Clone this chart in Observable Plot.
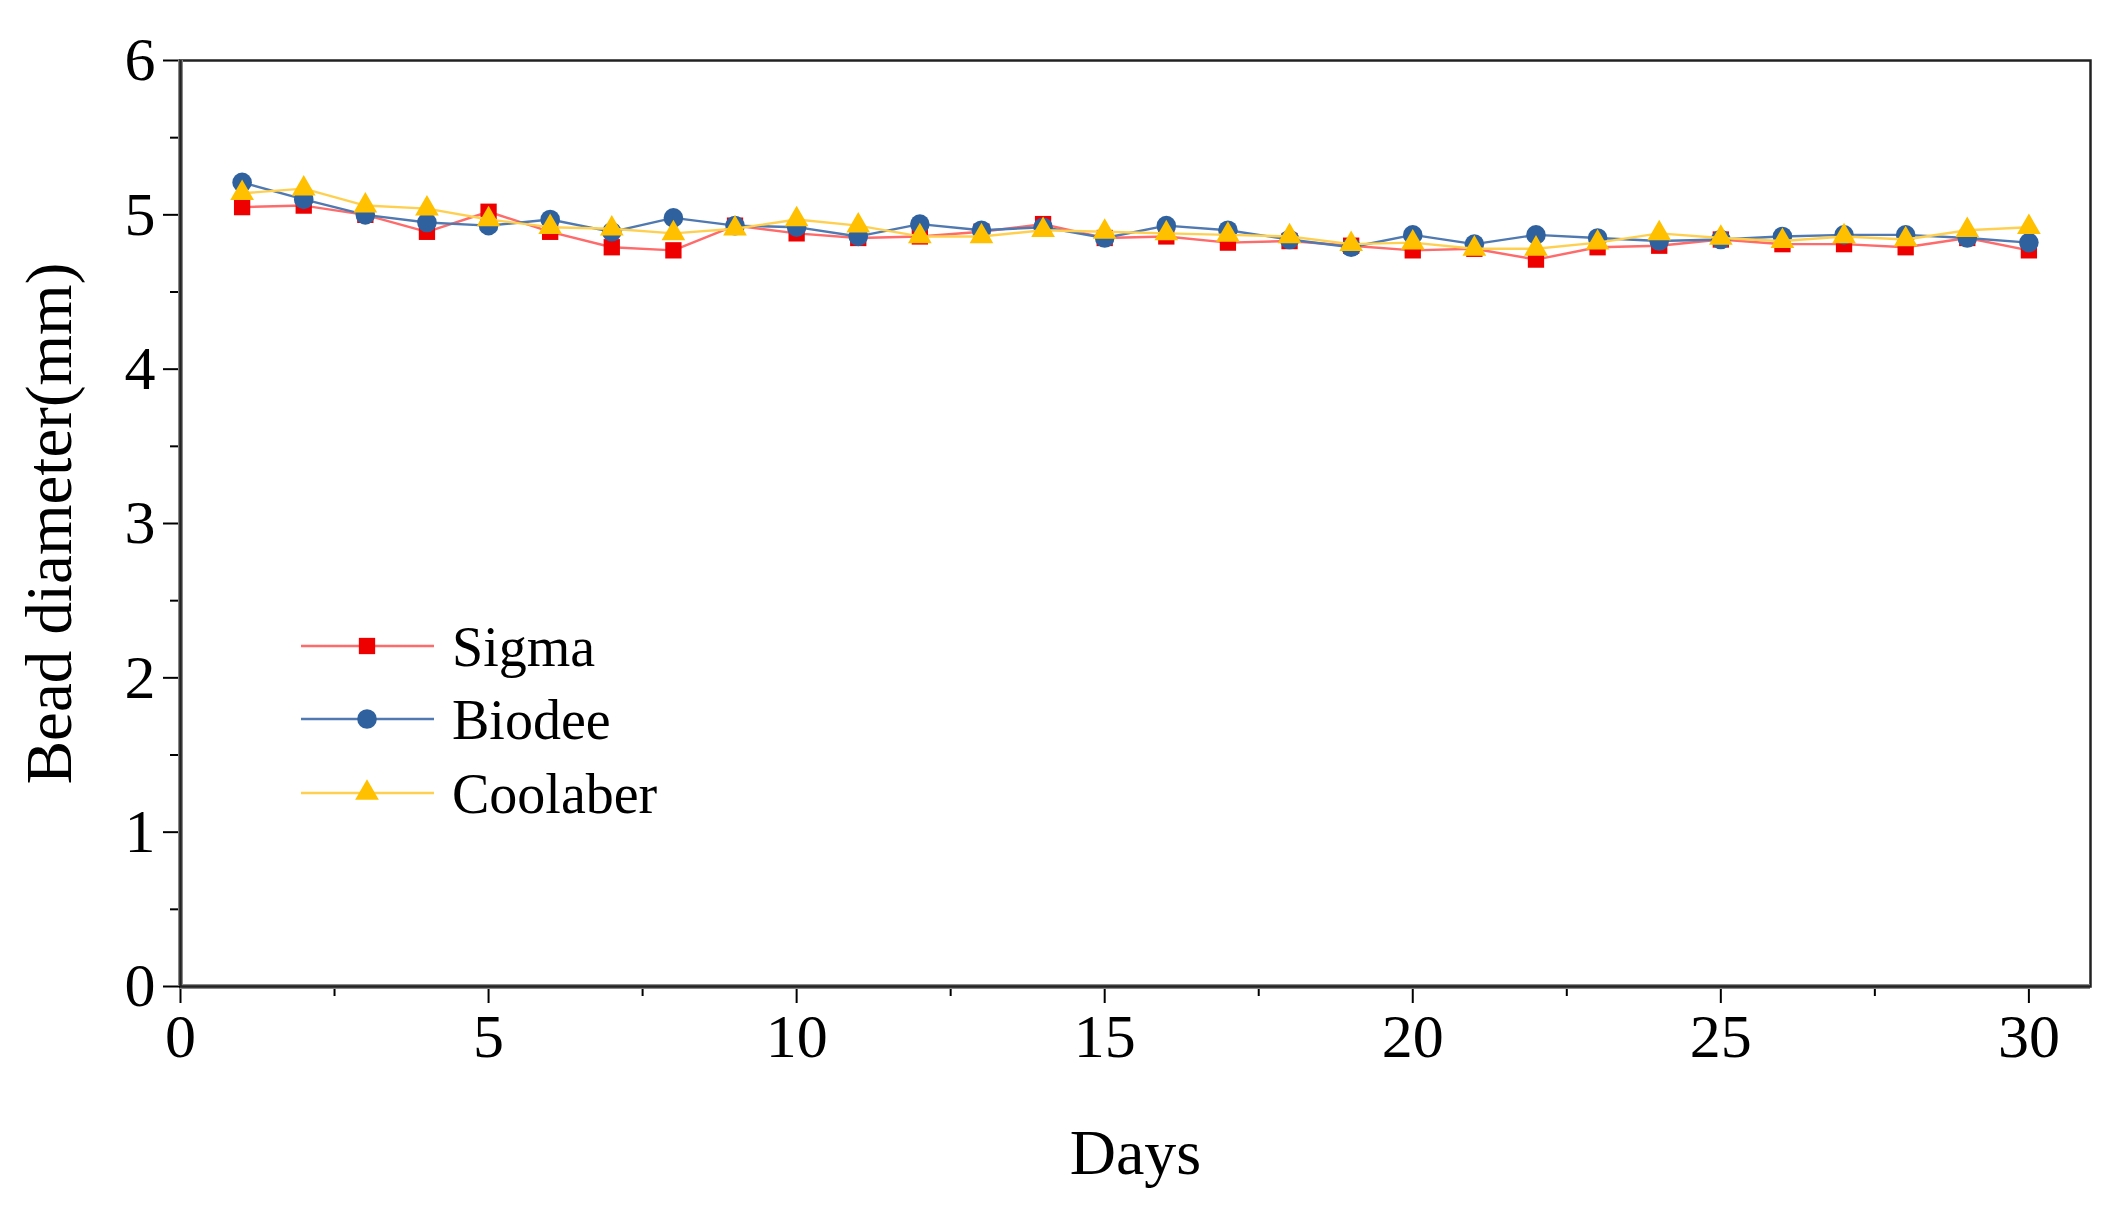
<!DOCTYPE html>
<html><head><meta charset="utf-8">
<script src="https://cdn.jsdelivr.net/npm/d3@7"></script>
<script src="https://cdn.jsdelivr.net/npm/@observablehq/plot@0.6"></script>
<style>
body{margin:0;background:#fff}
#wrap{position:relative;width:2116px;height:1214px;font-family:"Liberation Serif","Times New Roman",serif}
#legend{position:absolute;left:0;top:0}
</style>
</head><body><div id="wrap"></div>
<script>
const days = [1,2,3,4,5,6,7,8,9,10,11,12,13,14,15,16,17,18,19,20,21,22,23,24,25,26,27,28,29,30];
const seriesNames = ["Sigma","Biodee","Coolaber"];
const sigma    = [5.05,5.06,5.00,4.89,5.02,4.89,4.79,4.77,4.93,4.88,4.85,4.86,4.89,4.94,4.85,4.86,4.82,4.83,4.80,4.77,4.78,4.71,4.79,4.80,4.84,4.81,4.81,4.79,4.85,4.77];
const biodee   = [5.21,5.10,5.00,4.95,4.93,4.97,4.89,4.98,4.93,4.92,4.86,4.94,4.90,4.92,4.85,4.93,4.90,4.84,4.79,4.87,4.81,4.87,4.85,4.83,4.84,4.86,4.87,4.87,4.85,4.82];
const coolaber = [5.14,5.17,5.06,5.04,4.97,4.92,4.91,4.88,4.91,4.97,4.93,4.86,4.86,4.90,4.89,4.88,4.87,4.86,4.81,4.82,4.78,4.78,4.82,4.88,4.85,4.83,4.86,4.84,4.90,4.92];
const xTicks = [0,5,10,15,20,25,30];
const xMinor = [2.5,7.5,12.5,17.5,22.5,27.5];
const yTicks = [0,1,2,3,4,5,6];
const yMinor = [0.5,1.5,2.5,3.5,4.5,5.5];

const values = [sigma, biodee, coolaber];
const styles = [
  {line:"#ff6a6a", fill:"#ee0000", symbol:"square", r:9.2},
  {line:"#4f79b0", fill:"#2f619f", symbol:"circle", r:9.8},
  {line:"#ffd050", fill:"#ffc000", symbol:"triangle", r:8.8}
];
const tables = seriesNames.map((s,i)=>days.map((d,j)=>({series:s, day:d, value:values[i][j]})));

const font = '"Liberation Serif","Times New Roman",serif';
const marks = [];
tables.forEach((t,i)=>{
  marks.push(Plot.line(t,{x:"day",y:"value",stroke:styles[i].line,strokeWidth:2.4}));
  marks.push(Plot.dot(t,{x:"day",y:"value",symbol:()=>styles[i].symbol,fill:styles[i].fill,r:styles[i].r,stroke:"none"}));
});

const chart = Plot.plot({
  width:2116, height:1214,
  marginLeft:180, marginRight:26, marginTop:60, marginBottom:228,
  style:{fontFamily:font, color:"#000", background:"#fff"},
  x:{domain:[0,31]},
  y:{domain:[0,6]},
  symbol:{type:"identity"},
  marks:[
    Plot.frame({stroke:"#222", strokeWidth:2.5}),
    Plot.axisX({ticks:xTicks, tickSize:17, tickPadding:9, fontSize:62, label:null, tickFormat:d=>String(d), strokeWidth:2}),
    Plot.axisX({ticks:xMinor, tickSize:10, text:null, label:null, strokeWidth:2}),
    Plot.axisY({ticks:yTicks, tickSize:17, tickPadding:8, fontSize:62, label:null, tickFormat:d=>String(d), strokeWidth:2}),
    Plot.axisY({ticks:yMinor, tickSize:10, text:null, label:null, strokeWidth:2}),
    Plot.ruleX([0],{stroke:"#888", strokeWidth:5}),
    Plot.ruleY([0],{stroke:"#888", strokeWidth:5}),
    Plot.ruleX([0],{stroke:"#222", strokeWidth:2.5}),
    Plot.ruleY([0],{stroke:"#222", strokeWidth:2.5}),
    ...marks,
    Plot.text(["Days"],{frameAnchor:"bottom", dy:187, fontSize:64, fill:"#000"}),
    Plot.text(["Bead diameter(mm)"],{frameAnchor:"left", dx:-130, rotate:-90, textAnchor:"middle", fontSize:65, fill:"#000"})
  ]
});
const wrap = document.getElementById("wrap");
wrap.appendChild(chart);

// legend overlay
const leg = d3.select(wrap).append("svg").attr("id","legend").attr("width",2116).attr("height",1214);
const rowY = [646,719,793];
const symGen = (type, r) => d3.symbol(type==="square"?d3.symbolSquare:type==="circle"?d3.symbolCircle:d3.symbolTriangle, Math.PI*r*r)();
seriesNames.forEach((s,i)=>{
  const g = leg.append("g").attr("transform",`translate(0,${rowY[i]})`);
  g.append("line").attr("x1",301).attr("x2",434).attr("y1",0).attr("y2",0).attr("stroke",styles[i].line).attr("stroke-width",2.4);
  g.append("path").attr("d",symGen(styles[i].symbol, styles[i].r)).attr("transform","translate(367,0)").attr("fill",styles[i].fill);
  g.append("text").attr("x",452).attr("y",0).attr("dy","0.35em").attr("font-size",56).attr("font-family",font).attr("fill","#000").text(s);
});
</script>
</body></html>
